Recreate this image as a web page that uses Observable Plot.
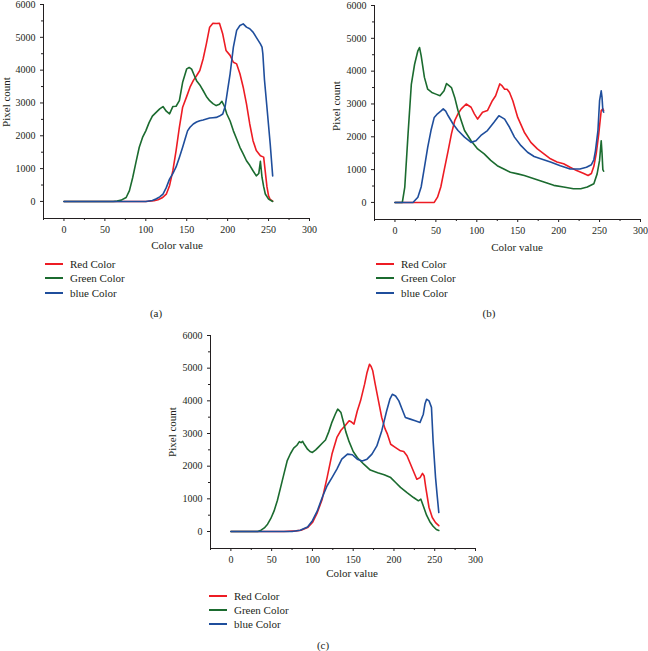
<!DOCTYPE html>
<html><head><meta charset="utf-8">
<script src="https://cdn.jsdelivr.net/npm/d3@7"></script>
<script src="https://cdn.jsdelivr.net/npm/@observablehq/plot@0.6"></script>
<style>
body{margin:0;background:#fff;}
#root{position:relative;width:648px;height:651px;overflow:hidden;font-family:"Liberation Serif","DejaVu Serif",serif;color:#231f20;}
.p{position:absolute;}
.t{position:absolute;font-size:11px;white-space:nowrap;line-height:1;}
.lg{position:absolute;height:2px;width:18px;}
</style></head><body><div id="root"></div>
<script>
// ---- tick labels ----
const xTicks = [0, 50, 100, 150, 200, 250, 300];
const xMinor = [-25, 25, 75, 125, 175, 225, 275];
const yTicks = [0, 1000, 2000, 3000, 4000, 5000, 6000];
const yMinor = [500, 1500, 2500, 3500, 4500, 5500];
const seriesNames = ["Red Color", "Green Color", "blue Color"];
const seriesColors = ["#ed1c24", "#1b6b2f", "#1f4e9c"];
const panelLabels = ["(a)", "(b)", "(c)"];
const xTitle = "Color value";
const yTitle = "Pixel count";

// ---- panel (a) ----
const aRedX = [0, 100, 110, 115, 120, 125, 129, 133, 137, 141, 145, 150, 154, 158, 162, 166, 170, 174, 178, 182, 186, 190, 194, 198, 203, 207, 211, 215, 219, 223, 227, 231, 235, 240, 244, 246, 248, 250, 252, 255];
const aRedY = [0, 0, 20, 50, 110, 220, 480, 930, 1550, 2260, 2870, 3200, 3480, 3680, 3830, 3990, 4340, 4800, 5310, 5430, 5420, 5430, 5100, 4600, 4450, 4240, 4190, 3890, 3480, 2970, 2360, 1850, 1550, 1390, 1350, 900, 450, 170, 60, 10];
const aGreenX = [0, 60, 65, 70, 76, 80, 84, 88, 92, 96, 100, 104, 108, 112, 117, 121, 125, 129, 133, 137, 141, 145, 150, 153, 156, 159, 162, 166, 170, 174, 178, 182, 186, 190, 193, 196, 199, 203, 207, 211, 215, 219, 223, 227, 231, 235, 238, 240, 242, 244, 246, 250, 255];
const aGreenY = [0, 0, 10, 40, 120, 330, 730, 1200, 1650, 1950, 2150, 2400, 2600, 2700, 2820, 2890, 2750, 2670, 2890, 2900, 3070, 3630, 4040, 4080, 4030, 3850, 3680, 3550, 3380, 3200, 3070, 2980, 2920, 2960, 3050, 2900, 2665, 2450, 2150, 1900, 1650, 1450, 1240, 1100, 935, 780, 850, 1220, 730, 450, 225, 70, 0];
const aBlueX = [0, 100, 108, 113, 117, 121, 125, 129, 133, 137, 141, 145, 148, 151, 154, 158, 162, 166, 170, 174, 178, 182, 186, 190, 194, 197, 200, 203, 207, 211, 215, 219, 223, 227, 231, 235, 240, 242, 243, 245, 248, 252, 255];
const aBlueY = [0, 0, 30, 80, 140, 225, 420, 680, 850, 1050, 1340, 1650, 1900, 2150, 2260, 2360, 2420, 2460, 2480, 2510, 2540, 2550, 2560, 2600, 2665, 2900, 3400, 3890, 4700, 5210, 5360, 5410, 5310, 5260, 5160, 5000, 4800, 4700, 4500, 3700, 2870, 1750, 780];

// ---- panel (b) ----
const bRedX = [0, 48, 52, 56, 60, 65, 69, 73, 77, 81, 87, 93, 97, 101, 107, 113, 119, 123, 128, 131, 134, 137, 140, 144, 150, 158, 166, 174, 182, 190, 198, 206, 214, 222, 230, 236, 240, 243, 246, 249, 252, 254, 255];
const bRedY = [0, 0, 160, 470, 970, 1580, 2090, 2490, 2700, 2850, 3000, 2900, 2700, 2540, 2750, 2800, 3100, 3250, 3610, 3550, 3450, 3450, 3350, 3100, 2590, 2140, 1830, 1630, 1480, 1330, 1230, 1180, 1070, 970, 890, 820, 880, 1100, 1500, 2090, 2800, 2850, 2800];
const bGreenX = [0, 9, 12, 16, 20, 24, 28, 30, 32, 36, 40, 45, 50, 55, 60, 63, 65, 69, 73, 77, 81, 85, 93, 101, 109, 117, 125, 133, 141, 150, 158, 170, 182, 194, 206, 218, 227, 235, 243, 247, 250, 252, 253, 254, 255];
const bGreenY = [0, 0, 470, 2090, 3600, 4210, 4620, 4720, 4470, 3810, 3450, 3350, 3300, 3250, 3400, 3620, 3580, 3500, 3200, 2800, 2490, 2190, 1880, 1630, 1480, 1280, 1120, 1020, 920, 870, 820, 720, 620, 520, 470, 415, 415, 470, 570, 870, 1280, 1880, 1500, 1000, 950];
const bBlueX = [0, 22, 28, 32, 36, 40, 44, 48, 52, 56, 59, 62, 65, 71, 77, 85, 93, 99, 105, 113, 121, 127, 130, 134, 140, 146, 154, 162, 170, 178, 190, 202, 214, 226, 234, 240, 243, 245, 248, 250, 252, 253, 254, 255];
const bBlueY = [0, 0, 160, 470, 1070, 1680, 2190, 2590, 2700, 2780, 2850, 2780, 2640, 2390, 2190, 1990, 1830, 1880, 2040, 2190, 2440, 2640, 2600, 2540, 2290, 1990, 1730, 1530, 1400, 1330, 1230, 1120, 1020, 1020, 1070, 1150, 1300, 1580, 2190, 3100, 3400, 3200, 2800, 2750];

// ---- panel (c) ----
const cRedX = [0, 65, 80, 86, 94, 100, 106, 112, 118, 124, 130, 135, 140, 145, 148, 151, 155, 159, 164, 167, 170, 172, 174, 177, 181, 185, 189, 192, 196, 202, 208, 212, 216, 222, 228, 232, 235, 237, 239, 243, 247, 251, 255];
const cRedY = [0, 0, 20, 40, 120, 275, 580, 990, 1650, 2370, 2880, 3100, 3235, 3390, 3350, 3290, 3690, 4000, 4510, 4870, 5120, 5050, 4920, 4510, 4000, 3490, 3150, 2980, 2670, 2570, 2470, 2450, 2320, 1960, 1600, 1650, 1780, 1700, 1350, 735, 430, 270, 180];
const cGreenX = [0, 33, 37, 41, 45, 49, 53, 57, 61, 65, 69, 73, 77, 81, 84, 86, 88, 90, 94, 97, 100, 104, 108, 112, 116, 120, 124, 128, 131, 133, 135, 138, 141, 145, 150, 155, 163, 171, 180, 188, 196, 202, 208, 216, 224, 230, 233, 236, 240, 244, 248, 252, 255];
const cGreenY = [0, 0, 40, 110, 225, 400, 630, 950, 1350, 1755, 2160, 2380, 2550, 2640, 2750, 2720, 2760, 2670, 2520, 2450, 2420, 2500, 2600, 2700, 2800, 3050, 3350, 3590, 3745, 3700, 3640, 3350, 3050, 2750, 2450, 2265, 2060, 1880, 1800, 1735, 1650, 1500, 1350, 1190, 1040, 940, 990, 780, 500, 300, 160, 60, 30];
const cBlueX = [0, 75, 85, 94, 100, 106, 112, 118, 124, 130, 136, 143, 149, 155, 161, 167, 173, 179, 185, 191, 195, 198, 202, 206, 210, 214, 220, 226, 232, 236, 238, 240, 243, 246, 248, 251, 253, 255];
const cBlueY = [0, 0, 40, 140, 330, 630, 1040, 1400, 1650, 1910, 2215, 2370, 2350, 2215, 2160, 2215, 2370, 2620, 3080, 3690, 4050, 4200, 4150, 4000, 3745, 3490, 3440, 3390, 3340, 3590, 3900, 4050, 4000, 3800, 2775, 1650, 1100, 580];

const xDomain = [-25, 300];
const yDomain = [-520, 6000];

function zip(xs, ys) { return xs.map((x, i) => ({x, y: ys[i]})); }

const root = document.getElementById("root");

function addText(txt, x, y, opts = {}) {
  const d = document.createElement("div");
  d.className = "t";
  d.textContent = txt;
  d.style.left = x + "px";
  d.style.top = y + "px";
  d.style.transform = opts.rotate ? "translate(-50%,-50%) rotate(-90deg)" : (opts.center ? "translate(-50%,-50%)" : "translate(0,-50%)");
  root.appendChild(d);
}

function panel(cfg) {
  const data = [zip(cfg.rx, cfg.ry), zip(cfg.gx, cfg.gy), zip(cfg.bx, cfg.by)];
  const svg = Plot.plot({
    width: cfg.width, height: cfg.height,
    marginTop: cfg.mt, marginBottom: cfg.mb, marginLeft: cfg.ml, marginRight: cfg.mr,
    x: {domain: xDomain, axis: null},
    y: {domain: yDomain, axis: null},
    style: {fontFamily: '"Liberation Serif", serif', fontSize: "10px", color: "#231f20", background: "transparent", overflow: "visible"},
    marks: [
      Plot.axisX(xTicks, {tickSize: 3, tickPadding: 4, label: null}),
      Plot.axisX(xMinor, {tickSize: 2, text: null, label: null}),
      Plot.axisY(yTicks, {tickSize: 3, tickPadding: 5, label: null, tickFormat: d => String(d)}),
      Plot.axisY(yMinor, {tickSize: 2, text: null, label: null}),
      Plot.ruleX([xDomain[0]], {stroke: "#231f20"}),
      Plot.ruleY([yDomain[0]], {stroke: "#231f20"}),
      ...data.map((d, i) => Plot.line(d, {x: "x", y: "y", stroke: seriesColors[i], strokeWidth: 1.6}))
    ]
  });
  svg.classList.add("p");
  svg.style.left = cfg.left + "px";
  svg.style.top = cfg.top + "px";
  root.appendChild(svg);
  addText(xTitle, cfg.xtx, cfg.xty, {center: true});
  addText(yTitle, cfg.ytx, cfg.yty, {rotate: true});
  seriesNames.forEach((n, i) => {
    const l = document.createElement("div");
    l.className = "lg";
    l.style.left = cfg.lgx + "px";
    l.style.top = Math.round(cfg.lgy[i] - 1) + "px";
    l.style.background = seriesColors[i];
    root.appendChild(l);
    addText(n, cfg.lgx + 25, cfg.lgy[i]);
  });
  addText(cfg.label, cfg.labx, cfg.laby, {center: true});
}

panel({left: 0, top: 0, width: 320, height: 255, mt: 4, mb: 37, ml: 43, mr: 11,
  rx: aRedX, ry: aRedY, gx: aGreenX, gy: aGreenY, bx: aBlueX, by: aBlueY,
  xtx: 177, xty: 245, ytx: 6, yty: 102, lgx: 45, lgy: [264, 277.5, 293], label: panelLabels[0], labx: 156, laby: 313});
panel({left: 324, top: 0, width: 324, height: 256, mt: 5, mb: 37, ml: 50, mr: 8,
  rx: bRedX, ry: bRedY, gx: bGreenX, gy: bGreenY, bx: bBlueX, by: bBlueY,
  xtx: 517, xty: 247, ytx: 336, yty: 106, lgx: 376, lgy: [264, 277.5, 293], label: panelLabels[1], labx: 489, laby: 313});
panel({left: 160, top: 325, width: 330, height: 260, mt: 10, mb: 37, ml: 50, mr: 15,
  rx: cRedX, ry: cRedY, gx: cGreenX, gy: cGreenY, bx: cBlueX, by: cBlueY,
  xtx: 352, xty: 573, ytx: 172, yty: 432, lgx: 209, lgy: [595.5, 609.5, 624], label: panelLabels[2], labx: 323, laby: 645});
</script></body></html>
